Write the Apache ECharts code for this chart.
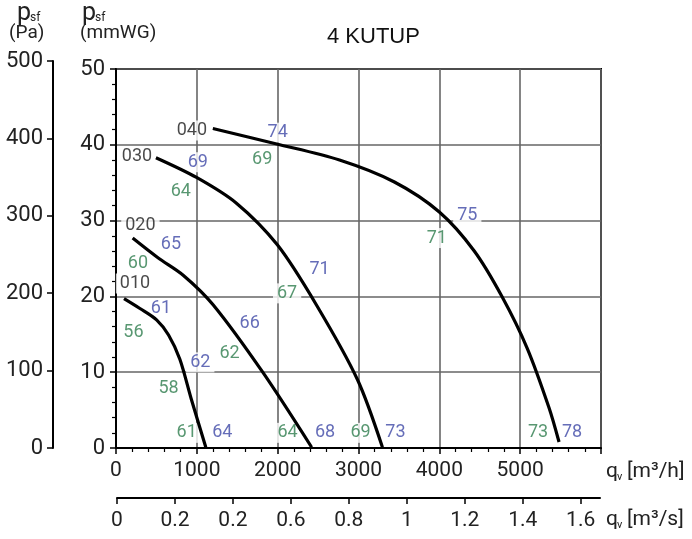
<!DOCTYPE html>
<html><head><meta charset="utf-8">
<script src="https://cdn.jsdelivr.net/npm/echarts@6/dist/echarts.min.js"></script>
<style>html,body{margin:0;padding:0;background:#fff}#c{width:692px;height:539px}</style>
</head><body><div id="c"></div>
<script>
// ---- axis ticks ----
const m3hMax = 6000;
const mmwgMax = 50;
const paMax = 500;
const m3sMax = 6000 / 3600;
const m3sTickValues = [0, 0.2, 0.4, 0.6, 0.8, 1.0, 1.2, 1.4, 1.6];
const m3sTickLabels = ['0', '0.2', '0.2', '0.6', '0.8', '1', '1.2', '1.4', '1.6'];

// ---- fan curves: [q m3/h, p mmWG] ----
const curve010 = [[99,19.7],[296,18.4],[502,16.9],[650,14.9],[790,11.7],[930,6.5],[1111,0.1]];
const curve020 = [[206,27.7],[519,25.1],[831,22.8],[1201,18.9],[1815,10.0],[2420,0.1]];
const curve030 = [[494,38.3],[996,35.7],[1490,32.3],[1996,26.8],[2478,18.9],[2988,9.0],[3296,0.1]];
const curve040 = [[1198,42.15],[1988,40.11],[2765,37.99],[3444,35.09],[4000,31.13],[4432,25.99],[4778,19.92],[5086,13.19],[5358,5.28],[5481,0.79]];

// ---- labels: [q, p, text] ----
const curveNameLabels = [[235,21.7,'010'],[302,29.4,'020'],[259,38.5,'030'],[938,41.9,'040']];
const blueLabels = [[2000,41.6,'74'],[1012,37.7,'69'],[4346,30.7,'75'],[679,26.8,'65'],[2519,23.5,'71'],[556,18.4,'61'],[1654,16.4,'66'],[1043,11.3,'62'],[1315,2.0,'64'],[2586,2.0,'68'],[3457,2.0,'73'],[5642,2.0,'78']];
const greenLabels = [[1809,38.1,'69'],[802,33.8,'64'],[3969,27.7,'71'],[272,24.4,'60'],[2117,20.4,'67'],[216,15.3,'56'],[1405,12.5,'62'],[650,7.9,'58'],[874,2.0,'61'],[2123,2.0,'64'],[3025,2.0,'69'],[5222,2.0,'73']];

const FONT = 'Roboto';
const BLUE = '#3f48a6';
const GREEN = '#2e7d4e';
const GRID = '#666';

function curveSeries(name, data) {
  return {
    name, type: 'line', xAxisIndex: 0, yAxisIndex: 0, data,
    smooth: 0.3, showSymbol: false, symbol: 'none', z: 5,
    lineStyle: { color: '#000', width: 3.2 }
  };
}
function labelSeries(name, data, color) {
  return {
    name, type: 'scatter', xAxisIndex: 0, yAxisIndex: 0, data,
    encode: { x: 0, y: 1 }, symbolSize: 1, z: 3, silent: true,
    itemStyle: { color: 'rgba(0,0,0,0)' },
    label: {
      show: true, position: 'inside', formatter: p => p.data[2],
      color, fontFamily: FONT, fontSize: 18,
      backgroundColor: '#fff', padding: [1, 4, 1, 4]
    }
  };
}

const chart = echarts.init(document.getElementById('c'), null, { renderer: 'canvas' });
chart.setOption({
  animation: false,
  backgroundColor: '#fff',
  textStyle: { fontFamily: FONT },
  title: {
    text: '4 KUTUP', left: 322, top: 21,
    textStyle: { fontFamily: 'Liberation Sans', fontSize: 22, fontWeight: 'normal', color: '#111' }
  },
  grid: [
    { left: 116, right: 91, top: 69, bottom: 91, show: true, borderColor: '#000', borderWidth: 2, backgroundColor: 'transparent' },
    { left: 53, width: 1, top: 61, bottom: 91 },
    { left: 117, right: 92, top: 497, height: 1 }
  ],
  xAxis: [
    {
      gridIndex: 0, type: 'value', min: 0, max: m3hMax, interval: 1000,
      axisLine: { show: true, lineStyle: { color: '#000', width: 2 } },
      axisTick: { show: true, inside: false, length: 6, lineStyle: { color: '#000', width: 1.5 } },
      minorTick: { show: true, splitNumber: 5, length: 4, lineStyle: { color: '#000', width: 1.2 } },
      splitLine: { show: true, lineStyle: { color: GRID, width: 1.6 } },
      axisLabel: { fontFamily: FONT, fontSize: 21, color: '#222', margin: 12,
        formatter: v => (v >= m3hMax ? '' : String(v)) }
    },
    { gridIndex: 1, type: 'value', show: false, min: 0, max: 1 },
    {
      gridIndex: 2, type: 'value', min: 0, max: m3sMax, position: 'bottom',
      axisLine: { show: true, onZero: false, lineStyle: { color: '#000', width: 2 } },
      axisTick: { show: true, inside: false, length: 6, customValues: m3sTickValues, lineStyle: { color: '#000', width: 1.5 } },
      splitLine: { show: false },
      axisLabel: { fontFamily: FONT, fontSize: 21, color: '#222', margin: 12,
        customValues: m3sTickValues,
        formatter: (v) => {
          const i = m3sTickValues.findIndex(t => Math.abs(t - v) < 1e-6);
          return i >= 0 ? m3sTickLabels[i] : '';
        } }
    }
  ],
  yAxis: [
    {
      gridIndex: 0, type: 'value', min: 0, max: mmwgMax, interval: 10,
      axisLine: { show: true, lineStyle: { color: '#000', width: 2 } },
      axisTick: { show: true, inside: false, length: 6, lineStyle: { color: '#000', width: 1.5 } },
      minorTick: { show: true, splitNumber: 5, length: 4, lineStyle: { color: '#000', width: 1.2 } },
      splitLine: { show: true, lineStyle: { color: GRID, width: 1.6 } },
      axisLabel: { fontFamily: FONT, fontSize: 22, color: '#222', margin: 11 }
    },
    {
      gridIndex: 1, type: 'value', min: 0, max: paMax, interval: 100,
      axisLine: { show: true, lineStyle: { color: '#000', width: 2 } },
      axisTick: { show: true, inside: false, length: 6, lineStyle: { color: '#000', width: 1.5 } },
      splitLine: { show: false },
      axisLabel: { fontFamily: FONT, fontSize: 22, color: '#222', margin: 10 }
    },
    { gridIndex: 2, type: 'value', show: false, min: 0, max: 1 }
  ],
  graphic: [
    { type: 'text', left: 17, top: 1, style: { text: 'p', font: '25px ' + FONT, fill: '#222' } },
    { type: 'text', left: 30, top: 12, style: { text: 'sf', font: '12px ' + FONT, fill: '#222' } },
    { type: 'text', left: 9, top: 24, style: { text: '(Pa)', font: '19px ' + FONT, fill: '#222' } },
    { type: 'text', left: 82, top: 1, style: { text: 'p', font: '25px ' + FONT, fill: '#222' } },
    { type: 'text', left: 95, top: 12, style: { text: 'sf', font: '12px ' + FONT, fill: '#222' } },
    { type: 'text', left: 80, top: 24, style: { text: '(mmWG)', font: '19px ' + FONT, fill: '#222' } },
    { type: 'text', left: 606, top: 461, style: { text: 'q', font: '21px ' + FONT, fill: '#222' } },
    { type: 'text', left: 617, top: 472, style: { text: 'v', font: '11px ' + FONT, fill: '#222' } },
    { type: 'text', left: 627, top: 461, style: { text: '[m³/h]', font: '21px ' + FONT, fill: '#222' } },
    { type: 'text', left: 606, top: 509, style: { text: 'q', font: '21px ' + FONT, fill: '#222' } },
    { type: 'text', left: 617, top: 520, style: { text: 'v', font: '11px ' + FONT, fill: '#222' } },
    { type: 'text', left: 627, top: 509, style: { text: '[m³/s]', font: '21px ' + FONT, fill: '#222' } }
  ],
  series: [
    curveSeries('010', curve010),
    curveSeries('020', curve020),
    curveSeries('030', curve030),
    curveSeries('040', curve040),
    labelSeries('names', curveNameLabels, '#1a1a1a'),
    labelSeries('blue', blueLabels, BLUE),
    labelSeries('green', greenLabels, GREEN)
  ]
});
</script>
</body></html>
